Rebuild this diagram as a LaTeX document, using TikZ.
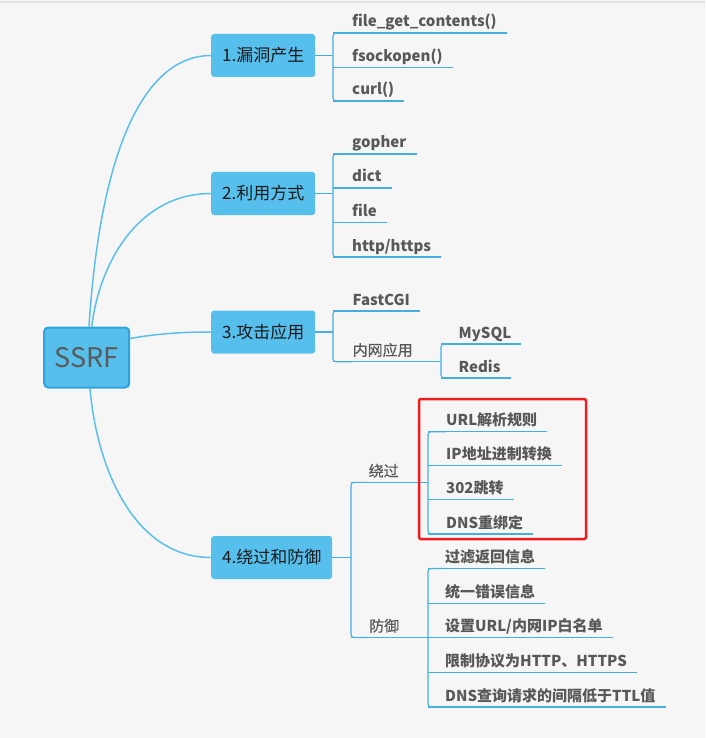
\documentclass[tikz,border=0pt]{standalone}
\usepackage{fontspec}
\setmainfont{Noto Sans CJK SC}
\newfontfamily\midfnt{Noto Sans CJK SC}[FakeBold=0.6]
\usetikzlibrary{calc}
\definecolor{bgc}{HTML}{F6F6F6}
\definecolor{topline}{HTML}{E2E2E2}
\definecolor{nodeblue}{HTML}{56BFEC}
\definecolor{ssrfborder}{HTML}{2FA4DC}
\definecolor{curveblue}{HTML}{5BBFEA}
\definecolor{lineblue}{HTML}{45AEE3}
\definecolor{leaftext}{HTML}{585858}
\definecolor{ssrftext}{HTML}{5A5A5A}
\definecolor{redbox}{HTML}{EE1C1C}
\tikzset{
  mainbox/.style={fill=nodeblue, rounded corners=3pt, minimum height=43pt, inner sep=0pt, anchor=west,
    text=black!90, font=\fontsize{17}{20}\selectfont},
  rootbox/.style={fill=nodeblue, draw=ssrfborder, line width=2pt, rounded corners=4pt,
    minimum width=85pt, minimum height=60pt, inner sep=0pt, text=ssrftext, font=\fontsize{27}{30}\selectfont},
  leaf/.style={anchor=base west, inner sep=0pt, text=leaftext, font=\bfseries\fontsize{15}{18}\selectfont},
  midleaf/.style={anchor=base west, inner sep=0pt, text=leaftext, font=\midfnt\fontsize{15}{18}\selectfont},
  curve/.style={draw=curveblue, line width=1.5pt},
  ul/.style={draw=lineblue, line width=1.1pt},
  brk/.style={draw=lineblue, line width=1.1pt, rounded corners=3pt},
}
\begin{document}
\begin{tikzpicture}[x=1pt,y=-1pt]
\fill[bgc] (0,0) rectangle (705,738);
\useasboundingbox (0,0) rectangle (705,738);
\draw[topline, line width=1.5pt] (0,2) -- (705,2);

% root and main nodes
\node[rootbox] (ssrf) at (86.7,357.5) {SSRF};
\node[mainbox, minimum width=104pt] (n1) at (211,55.5) {1.漏洞产生};
\node[mainbox, minimum width=104pt] (n2) at (211,193.5) {2.利用方式};
\node[mainbox, minimum width=104pt] (n3) at (211,332) {3.攻击应用};
\node[mainbox, minimum width=121pt] (n4) at (211,557.5) {4.绕过和防御};

% curved connectors
\draw[curve] ([xshift=2.3pt]ssrf.north) .. controls (101,140) and (148,55.5) .. (n1.west);
\draw[curve] ([xshift=5pt]ssrf.north) .. controls (100,260) and (140,193.5) .. (n2.west);
\draw[curve] ([yshift=19pt]ssrf.east) .. controls (155,334) and (180,332) .. (n3.west);
\draw[curve] ([xshift=3.3pt]ssrf.south) .. controls (97,470) and (135,557.5) .. (n4.west);

% ---------- branch 1
\coordinate (b1) at (333,55.5);
\draw[ul] (n1.east) -- (b1);
\draw[brk] (352,33) -- (333,33) -- (333,101) -- (352,101);
\foreach \nm/\u/\t in {a1/33/{file\_get\_contents()}, a2/67.5/{fsockopen()}, a3/101/{curl()}}{
  \node[leaf] (\nm) at (352,\u-6) {\t};
  \draw[ul] (333,\u) -- ([xshift=10pt,yshift=-6pt]\nm.base east);
}

% ---------- branch 2
\coordinate (b2) at (333,193.5);
\draw[ul] (n2.east) -- (b2);
\draw[brk] (352,154) -- (333,154) -- (333,257) -- (352,257);
\foreach \nm/\u/\t in {c1/154/{gopher}, c2/188/{dict}, c3/222.5/{file}, c4/257/{http/https}}{
  \node[leaf] (\nm) at (352,\u-6) {\t};
  \draw[ul] (333,\u) -- ([xshift=10pt,yshift=-6pt]\nm.base east);
}

% ---------- branch 3
\coordinate (b3) at (333,332);
\draw[ul] (n3.east) -- (b3);
\draw[brk] (352,311) -- (333,311) -- (333,361.7) -- (352,361.7);
\node[leaf] (d1) at (352.5,305) {FastCGI};
\draw[ul] (333,311) -- ([xshift=10pt,yshift=-6pt]d1.base east);
\node[midleaf] (d2) at (352.5,355.7) {内网应用};
\coordinate (b3s) at (441,361.7);
\draw[ul] (333,361.7) -- (b3s);
\draw[brk] (458,344) -- (441,344) -- (441,378) -- (458,378);
\foreach \nm/\u/\t in {e1/344/{MySQL}, e2/378/{Redis}}{
  \node[leaf] (\nm) at (458.5,\u-6) {\t};
  \draw[ul] (441,\u) -- ([xshift=10pt,yshift=-6pt]\nm.base east);
}

% ---------- branch 4
\coordinate (b4) at (351,557.5);
\draw[ul] (n4.east) -- (b4);
\draw[brk] (368,482.3) -- (351,482.3) -- (351,637.5) -- (368,637.5);
\node[midleaf] (g1) at (368.5,476.5) {绕过};
\node[midleaf] (g2) at (369,631.5) {防御};
\coordinate (b4a) at (428,482.3);
\coordinate (b4b) at (428,637.5);
\draw[ul] (351,482.3) -- (b4a);
\draw[ul] (351,637.5) -- (b4b);
\draw[brk] (446,431.7) -- (428,431.7) -- (428,534) -- (446,534);
\foreach \nm/\u/\t in {h1/431.7/{URL解析规则}, h2/465.8/{IP地址进制转换}, h3/499.9/{302跳转}, h4/534/{DNS重绑定}}{
  \node[leaf] (\nm) at (446,\u-6) {\t};
  \draw[ul] (428,\u) -- ([xshift=10pt,yshift=-6pt]\nm.base east);
}
\draw[brk] (446,568.5) -- (428,568.5) -- (428,707) -- (446,707);
\foreach \nm/\u/\t in {k1/568.5/{过滤返回信息}, k2/603.2/{统一错误信息}, k3/637.5/{设置URL/内网IP白名单}, k4/672.5/{限制协议为HTTP、HTTPS}, k5/707/{DNS查询请求的间隔低于TTL值}}{
  \node[leaf] (\nm) at (445,\u-6) {\t};
  \draw[ul] (428,\u) -- ([xshift=10pt,yshift=-6pt]\nm.base east);
}

% red highlight box
\draw[redbox, line width=2.5pt, rounded corners=2pt] (419,399) rectangle (586,539);
\end{tikzpicture}
\end{document}
